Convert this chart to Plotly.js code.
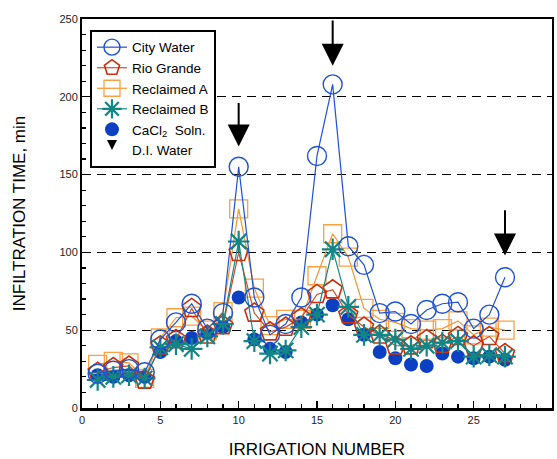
<!DOCTYPE html>
<html>
<head>
<meta charset="utf-8">
<script src="https://cdn.plot.ly/plotly-3.0.1.min.js"></script>
<style>html,body{margin:0;padding:0;background:#fff;}#chart{width:557px;height:459px;}</style>
</head>
<body>
<div id="chart"></div>
<script>
const irrigation = [1,2,3,4,5,6,7,8,9,10,11,12,13,14,15,16,17,18,19,20,21,22,23,24,25,26,27];
const cityWater  = [22,24,25,23,44,55,67,51,61,155,71,47,54,71,162,208,104,92,61,62,54,63,67,68,51,60,84];
const rioGrande  = [23,26,27,18,40,44,64,47,53,100,61,49,52,58,73,76,60,52,47,40,40,44,41,46,40,46,35];
const reclaimedA = [28,30,29,19,45,58,59,50,62,128,77,53,57,57,85,112,97,64,57,55,51,50,51,56,47,52,50];
const reclaimedB = [18,20,21,19,39,41,38,46,54,107,43,35,37,52,60,102,65,47,47,44,38,40,42,43,33,34,33];
const cacl2Soln  = [21,20,21,20,36,43,45,48,52,71,44,38,36,55,60,66,57,47,36,32,28,27,35,33,32,33,31];
const diWaterX    = [10,16,27];
const diWaterTop  = [197,250,128];
const diWaterTip  = [168,220,98];

const traces = [
  {x: irrigation, y: cacl2Soln, name: 'CaCl<sub>2</sub>  Soln.', mode: 'markers', legendrank: 5,
   marker: {symbol: 'circle', size: 14, color: '#0b40c2'}},
  {x: irrigation, y: reclaimedA, name: 'Reclaimed A', mode: 'lines+markers', legendrank: 3,
   line: {color: '#f7952e', width: 1.2},
   marker: {symbol: 'square-open', size: 18, color: '#f7a245', line: {width: 1.3}}},
  {x: irrigation, y: rioGrande, name: 'Rio Grande', mode: 'lines+markers', legendrank: 2,
   line: {color: '#d24a2a', width: 1.2},
   marker: {symbol: 'pentagon-open', size: 20, color: '#c8310f', line: {width: 1.6}}},
  {x: irrigation, y: reclaimedB, name: 'Reclaimed B', mode: 'lines+markers', legendrank: 4,
   line: {color: '#168a88', width: 1.2},
   marker: {symbol: 'asterisk-open', size: 18, color: '#138585', line: {width: 2.2}}},
  {x: irrigation, y: cityWater, name: 'City Water', mode: 'lines+markers', legendrank: 1,
   line: {color: '#1f52cf', width: 1.2},
   marker: {symbol: 'circle-open', size: 19, color: '#1f52cf', line: {width: 1.4}}},
  {x: [null], y: [null], name: 'D.I. Water', mode: 'markers', legendrank: 6,
   marker: {symbol: 'arrow-down', size: 10, color: '#000'}}
];

const annotations = diWaterX.map((xv, i) => ({
  x: xv, y: diWaterTip[i], ax: xv, ay: diWaterTop[i], axref: 'x', ayref: 'y', xref: 'x', yref: 'y',
  text: '', showarrow: true, arrowhead: 2, arrowwidth: 2, arrowsize: 2.2, arrowcolor: '#000', standoff: 0
}));

const layout = {
  width: 557, height: 459,
  margin: {l: 82, r: 5, t: 19, b: 51},
  paper_bgcolor: '#fff', plot_bgcolor: '#fff',
  font: {family: 'Liberation Sans, Arial, sans-serif', color: '#000'},
  showlegend: true,
  legend: {x: 0.017, y: 0.972, xanchor: 'left', yanchor: 'top', bgcolor: '#fff',
           bordercolor: '#000', borderwidth: 2, font: {size: 13.5, color: '#000'},
           tracegroupgap: 0, itemsizing: 'trace'},
  xaxis: {range: [0, 30], dtick: 5, tick0: 0, ticks: 'inside', ticklen: 7, tickwidth: 1.2, tickcolor: '#000',
          minor: {dtick: 1, ticks: 'inside', ticklen: 4, tickcolor: '#000'},
          showline: true, linewidth: 2.5, linecolor: '#000', mirror: true,
          showgrid: false, zeroline: false,
          tickfont: {size: 11, color: '#222'},
          title: {text: 'IRRIGATION NUMBER', font: {size: 17, color: '#000'}, standoff: 19}},
  yaxis: {range: [0, 250], dtick: 50, tick0: 0, ticks: 'inside', ticklen: 7, tickwidth: 1.2, tickcolor: '#000',
          minor: {dtick: 10, ticks: 'inside', ticklen: 4, tickcolor: '#000'},
          showline: true, linewidth: 2, linecolor: '#000', mirror: true,
          showgrid: true, gridcolor: '#000', gridwidth: 1, griddash: '9px,6px', zeroline: false,
          tickfont: {size: 11, color: '#222'},
          title: {text: 'INFILTRATION TIME, min', font: {size: 17, color: '#000'}, standoff: 29}},
  annotations: annotations
};

Plotly.newPlot('chart', traces, layout, {staticPlot: true, displayModeBar: false});
</script>
</body>
</html>
